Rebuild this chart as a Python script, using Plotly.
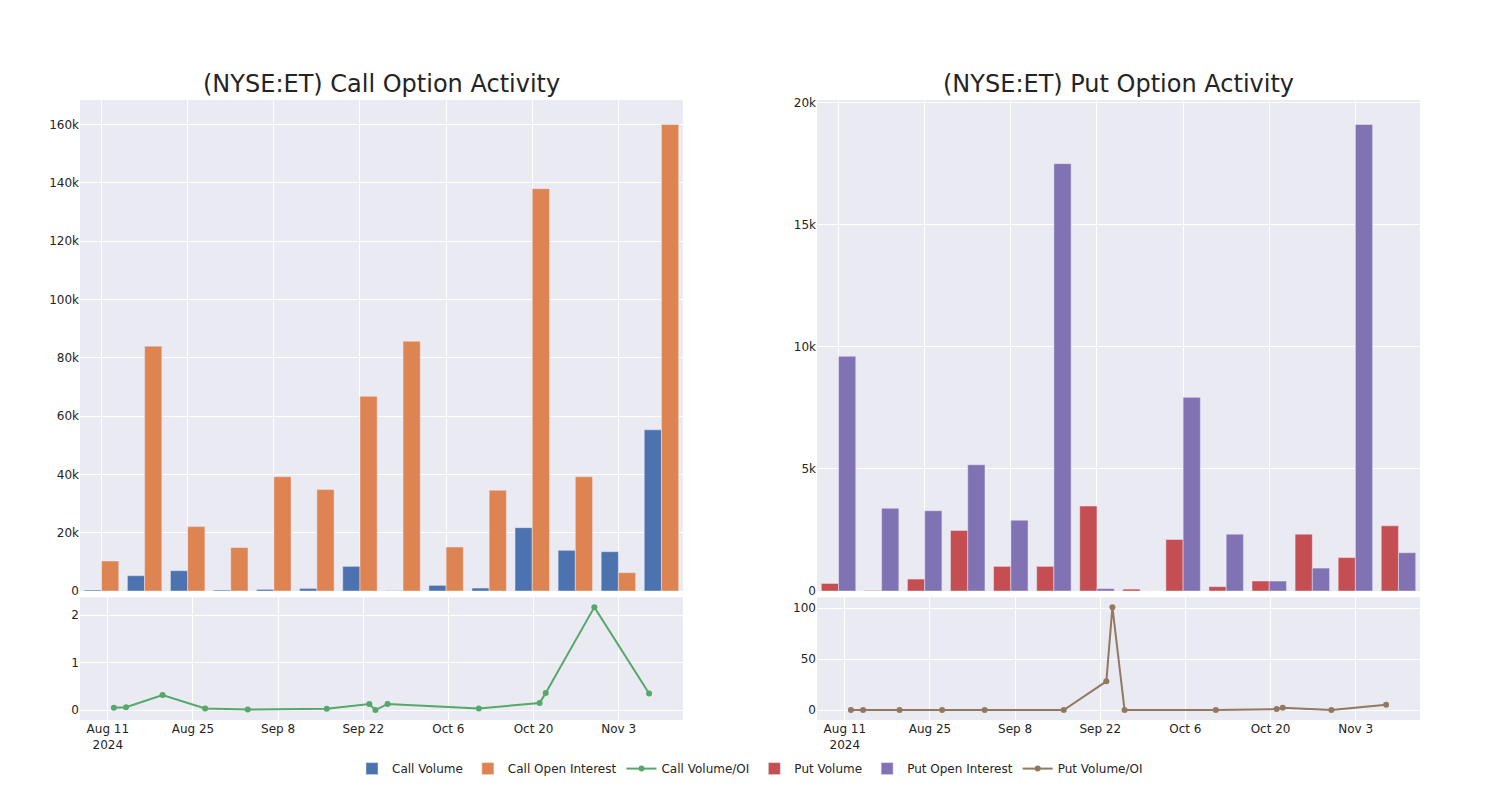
import plotly.graph_objects as go
from plotly.subplots import make_subplots

# Weekly bar dates
bar_dates = ["2024-08-11", "2024-08-18", "2024-08-25", "2024-09-01", "2024-09-08",
             "2024-09-15", "2024-09-22", "2024-09-29", "2024-10-06", "2024-10-13",
             "2024-10-20", "2024-10-27", "2024-11-03", "2024-11-10"]

call_volume = [350, 5270, 6980, 340, 570, 900, 8470, 100, 1950, 1030, 21750, 13970, 13500, 55300]
call_oi = [10300, 84000, 22100, 14900, 39200, 34800, 66800, 85700, 15100, 34600, 138000, 39200, 6300, 160000]

put_volume = [310, 20, 490, 2480, 1010, 1010, 3480, 80, 2110, 180, 410, 2330, 1370, 2670]
put_oi = [9610, 3390, 3290, 5170, 2900, 17500, 100, 0, 7930, 2330, 410, 940, 19100, 1570]

# Volume / OI ratio lines
ratio_dates = ["2024-08-12", "2024-08-14", "2024-08-20", "2024-08-27", "2024-09-03",
               "2024-09-16", "2024-09-23", "2024-09-24", "2024-09-26", "2024-10-11",
               "2024-10-21", "2024-10-22", "2024-10-30", "2024-11-08"]
call_ratio = [0.05, 0.06, 0.32, 0.035, 0.014, 0.028, 0.13, 0.0, 0.13, 0.035, 0.15, 0.36, 2.17, 0.35]
put_ratio = [0, 0, 0, 0, 0, 0, 28.2, 101, 0, 0, 1.0, 2.3, 0, 5.2]

titles = ["(NYSE:ET) Call Option Activity", "(NYSE:ET) Put Option Activity"]

fig = make_subplots(rows=2, cols=2, row_heights=[0.8, 0.2], vertical_spacing=0.01,
                    horizontal_spacing=0.1, subplot_titles=[titles[0], titles[1], "", ""])

fig.add_trace(go.Bar(x=bar_dates, y=call_volume, name="Call Volume", marker_color="#4C72B0"), row=1, col=1)
fig.add_trace(go.Bar(x=bar_dates, y=call_oi, name="Call Open Interest", marker_color="#DD8452"), row=1, col=1)
fig.add_trace(go.Scatter(x=ratio_dates, y=call_ratio, name="Call Volume/OI", mode="lines+markers",
                         line=dict(color="#55A868", width=2), marker=dict(size=6)), row=2, col=1)
fig.add_trace(go.Bar(x=bar_dates, y=put_volume, name="Put Volume", marker_color="#C44E52"), row=1, col=2)
fig.add_trace(go.Bar(x=bar_dates, y=put_oi, name="Put Open Interest", marker_color="#8172B3"), row=1, col=2)
fig.add_trace(go.Scatter(x=ratio_dates, y=put_ratio, name="Put Volume/OI", mode="lines+markers",
                         line=dict(color="#937860", width=2), marker=dict(size=6)), row=2, col=2)

tick_step = 14 * 86400000
for c in (1, 2):
    fig.update_xaxes(type="date", showticklabels=False, dtick=tick_step, tick0="2024-08-11", row=1, col=c)
    fig.update_xaxes(type="date", dtick=tick_step, tick0="2024-08-11", row=2, col=c)

fig.update_annotations(font=dict(size=24, family="DejaVu Sans", color="rgb(36,36,36)"))

fig.update_layout(
    template="seaborn",
    width=1500, height=800,
    margin=dict(l=72, r=88, t=92, b=88),
    font=dict(family="DejaVu Sans", size=12, color="rgb(36,36,36)"),
    barmode="group",
    legend=dict(orientation="h", x=0.5, xanchor="center", y=-0.055, yanchor="top"),
)

fig.write_html("out.html")
